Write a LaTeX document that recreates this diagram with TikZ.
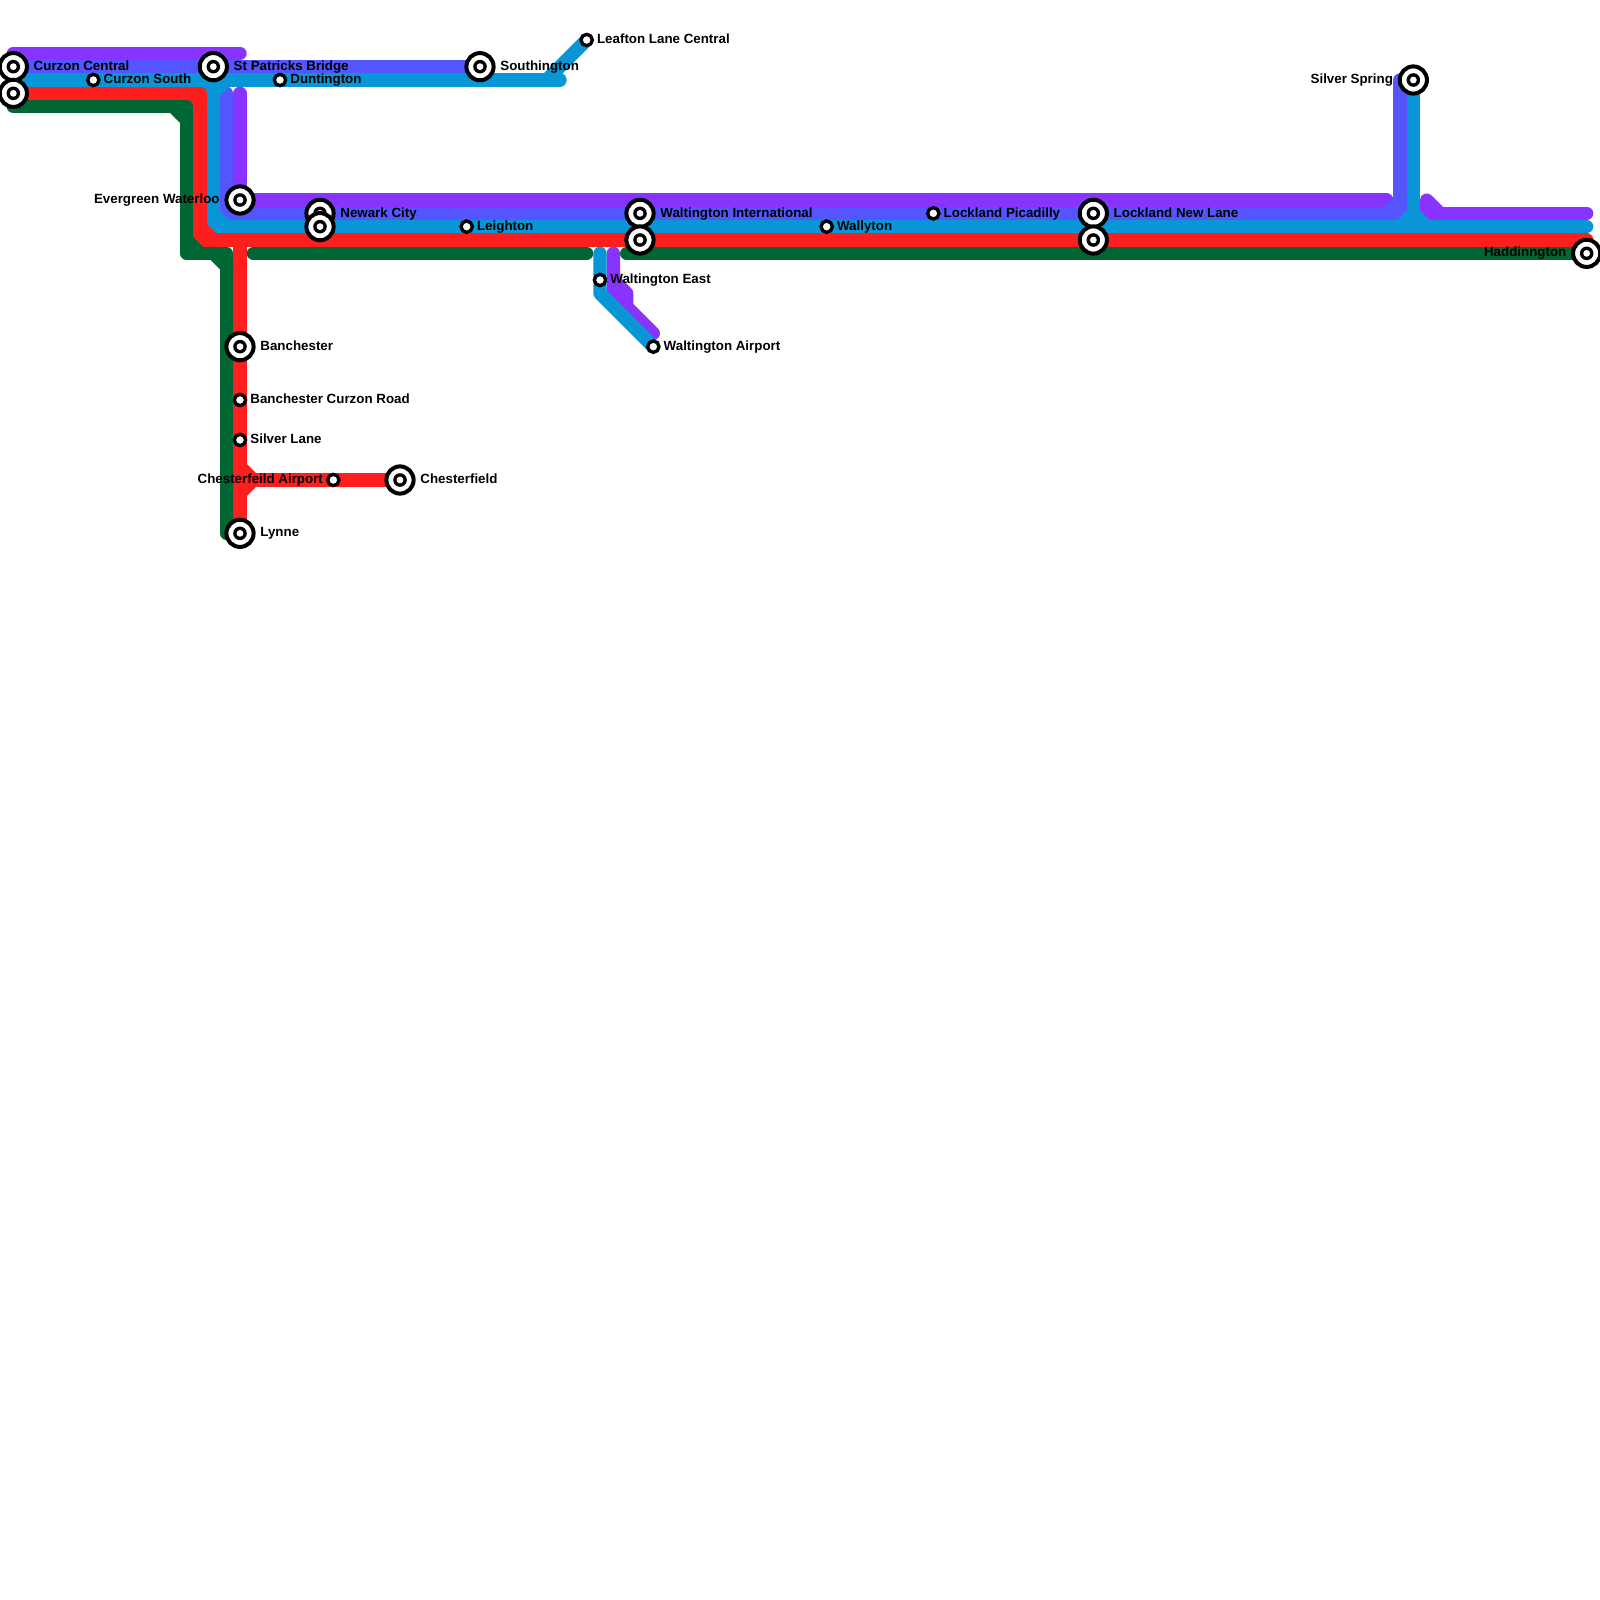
\documentclass[tikz,border=0pt]{standalone}
\usepackage{fontspec}
\setmainfont{Liberation Sans}
\definecolor{cpurple}{RGB}{136,51,255}
\definecolor{cblue}{RGB}{85,85,255}
\definecolor{ccyan}{RGB}{9,150,215}
\definecolor{cred}{RGB}{255,30,30}
\definecolor{cgreen}{RGB}{0,102,51}
\tikzset{
 metro/.style={line width=6.667pt,line cap=round,line join=round},
 purpleline/.style={metro,draw=cpurple},
 blueline/.style={metro,draw=cblue},
 cyanline/.style={metro,draw=ccyan},
 redline/.style={metro,draw=cred},
 greenline/.style={metro,draw=cgreen},
 bigstop/.style={circle,draw=black,fill=white,line width=2pt,minimum size=13.6pt,inner sep=0pt,outer sep=0pt,
   path picture={\fill[black] (path picture bounding box.center) circle (3.4pt);
                 \fill[white] (path picture bounding box.center) circle (1.7pt);}},
 smallstop/.style={circle,draw=black,fill=white,line width=1.67pt,minimum size=5.67pt,inner sep=0pt,outer sep=0pt},
 lab/.style={font=\bfseries\fontsize{6.67pt}{8pt}\selectfont,inner sep=0pt,text=black},
 labr/.style={lab,anchor=base west},
 labl/.style={lab,anchor=base east},
}
\begin{document}
\begin{tikzpicture}[x=0.5pt,y=-0.5pt]
\useasboundingbox (0,0) rectangle (1600,1600);
\clip (0,0) rectangle (1600,1600);
% station positions
\coordinate (pCC) at (13.33,66.67);
\coordinate (pCS2) at (13.33,93.33);
\coordinate (pCS) at (93.33,80);
\coordinate (pSP) at (213.33,66.67);
\coordinate (pDu) at (280,80);
\coordinate (pSo) at (480,66.67);
\coordinate (pLe) at (586.67,40);
\coordinate (pEW) at (240,200);
\coordinate (pNC) at (320,213.33);
\coordinate (pNC2) at (320,226.67);
\coordinate (pLg) at (466.67,226.67);
\coordinate (pWI) at (640,213.33);
\coordinate (pWI2) at (640,240);
\coordinate (pWy) at (826.67,226.67);
\coordinate (pLP) at (933.33,213.33);
\coordinate (pLN) at (1093.33,213.33);
\coordinate (pLN2) at (1093.33,240);
\coordinate (pSS) at (1413.33,80);
\coordinate (pHa) at (1586.67,253.33);
\coordinate (pBa) at (240,346.67);
\coordinate (pBC) at (240,400);
\coordinate (pSL) at (240,440);
\coordinate (pCA) at (333.33,480);
\coordinate (pCh) at (400,480);
\coordinate (pLy) at (240,533.33);
\coordinate (pWE) at (600,280);
\coordinate (pWA) at (653.33,346.67);
% way points: green
\coordinate (g1) at (13.33,106.67);
\coordinate (g2) at (186.67,106.67);
\coordinate (g2a) at (173.33,106.67);
\coordinate (g2b) at (186.67,120);
\coordinate (g3) at (186.67,253.33);
\coordinate (g3a) at (186.67,240);
\coordinate (g3b) at (200,253.33);
\coordinate (g4) at (226.67,253.33);
\coordinate (g4a) at (213.33,253.33);
\coordinate (g4b) at (226.67,266.67);
\coordinate (g5) at (226.67,533.33);
\coordinate (g6) at (253.33,253.33);
\coordinate (g7) at (586.67,253.33);
\coordinate (g8) at (626.67,253.33);
% red
\coordinate (r1) at (200,93.33);
\coordinate (r1a) at (186.67,93.33);
\coordinate (r1b) at (200,106.67);
\coordinate (r2) at (200,226.67);
\coordinate (r2a) at (200,240);
\coordinate (r3) at (213.33,240);
\coordinate (r4) at (1586.67,240);
\coordinate (r5) at (240,240);
\coordinate (r6) at (240,466.67);
\coordinate (r7) at (253.33,480);
\coordinate (r8) at (240,493.33);
% cyan
\coordinate (c0) at (13.33,80);
\coordinate (c1) at (546.67,80);
\coordinate (c2) at (560,80);
\coordinate (c3) at (213.33,80);
\coordinate (c3a) at (226.67,80);
\coordinate (c3b) at (213.33,93.33);
\coordinate (c3c) at (200,80);
\coordinate (c4) at (213.33,213.33);
\coordinate (c4a) at (213.33,226.67);
\coordinate (c5) at (226.67,226.67);
\coordinate (c6) at (1586.67,226.67);
\coordinate (c7) at (1413.33,213.33);
\coordinate (c7a) at (1400,226.67);
\coordinate (c7b) at (1426.67,226.67);
\coordinate (c8) at (600,253.33);
\coordinate (c9) at (600,293.33);
% blue
\coordinate (b0) at (13.33,66.67);
\coordinate (b1) at (226.67,93.33);
\coordinate (b2) at (226.67,200);
\coordinate (b2a) at (226.67,213.33);
\coordinate (b3) at (240,213.33);
\coordinate (b4) at (1386.67,213.33);
\coordinate (b4a) at (1400,213.33);
\coordinate (b5) at (1400,200);
\coordinate (b6) at (1400,80);
% purple
\coordinate (u0) at (13.33,53.33);
\coordinate (u1) at (240,53.33);
\coordinate (u2) at (240,93.33);
\coordinate (u3) at (1386.67,200);
\coordinate (u4) at (1426.67,200);
\coordinate (u5) at (1440,213.33);
\coordinate (u6) at (1586.67,213.33);
\coordinate (u7) at (1426.67,213.33);
\coordinate (u8) at (613.33,253.33);
\coordinate (u9) at (613.33,293.33);
\coordinate (u10) at (653.33,333.33);
\coordinate (u11) at (613.33,280);
\coordinate (u12) at (626.67,293.33);
\coordinate (u13) at (626.67,306.67);
% purple
\draw[purpleline] (u0) -- (u1);
\draw[purpleline] (u2) -- (pEW) -- (u3);
\draw[purpleline] (u7) -- (u6);
\draw[purpleline] (u7) -- (u4) -- (u5);
\draw[purpleline] (u8) -- (u9) -- (u10);
\draw[purpleline] (u11) -- (u12) -- (u13);
% blue
\draw[blueline] (b0) -- (pSo);
\draw[blueline] (b1) -- (b2a) -- (b4a) -- (b6);
\draw[blueline] (b2) -- (b3);
\draw[blueline] (b4) -- (b5);
% cyan
\draw[cyanline] (c0) -- (c2);
\draw[cyanline] (c1) -- (pLe);
\draw[cyanline] (c3) -- (c4a) -- (c6);
\draw[cyanline] (c4) -- (c5);
\draw[cyanline] (c3a) -- (c3b) -- (c3c);
\draw[cyanline] (pSS) -- (c7);
\draw[cyanline] (c7a) -- (c7) -- (c7b);
\draw[cyanline] (c8) -- (c9) -- (pWA);
% red
\draw[redline] (pCS2) -- (r1) -- (r2a) -- (r4);
\draw[redline] (r1a) -- (r1b);
\draw[redline] (r2) -- (r3);
\draw[redline] (r5) -- (pLy);
\draw[redline] (r6) -- (r7) -- (r8);
\draw[redline] (r7) -- (pCh);
% green
\draw[greenline] (g1) -- (g2) -- (g3) -- (g4) -- (g5);
\draw[greenline] (g2a) -- (g2b);
\draw[greenline] (g3a) -- (g3b);
\draw[greenline] (g4a) -- (g4b);
\draw[greenline] (g6) -- (g7);
\draw[greenline] (g8) -- (pHa);
% stations
\node[bigstop] (sCC) at (pCC) {};
\node[bigstop] (sCC2) at (pCS2) {};
\node[smallstop] (sCS) at (pCS) {};
\node[bigstop] (sSP) at (pSP) {};
\node[smallstop] (sDu) at (pDu) {};
\node[bigstop] (sSo) at (pSo) {};
\node[smallstop] (sLe) at (pLe) {};
\node[bigstop] (sEW) at (pEW) {};
\node[bigstop] (sNC) at (pNC) {};
\node[bigstop] (sNC2) at (pNC2) {};
\node[smallstop] (sLg) at (pLg) {};
\node[bigstop] (sWI) at (pWI) {};
\node[bigstop] (sWI2) at (pWI2) {};
\node[smallstop] (sWy) at (pWy) {};
\node[smallstop] (sLP) at (pLP) {};
\node[bigstop] (sLN) at (pLN) {};
\node[bigstop] (sLN2) at (pLN2) {};
\node[bigstop] (sSS) at (pSS) {};
\node[bigstop] (sHa) at (pHa) {};
\node[bigstop] (sBa) at (pBa) {};
\node[smallstop] (sBC) at (pBC) {};
\node[smallstop] (sSL) at (pSL) {};
\node[smallstop] (sCA) at (pCA) {};
\node[bigstop] (sCh) at (pCh) {};
\node[bigstop] (sLy) at (pLy) {};
\node[smallstop] (sWE) at (pWE) {};
\node[smallstop] (sWA) at (pWA) {};
% labels
\node[labr] (tCC) at (33.33,70.8) {Curzon Central};
\node[labr] (tCS) at (103.33,83.33) {Curzon South};
\node[labr] (tSP) at (233.33,70.8) {St Patricks Bridge};
\node[labr] (tDu) at (290,83.33) {Duntington};
\node[labr] (tSo) at (500,70.8) {Southington};
\node[labr] (tLe) at (596.67,43.33) {Leafton Lane Central};
\node[labl] (tEW) at (220,203.33) {Evergreen Waterloo};
\node[labr] (tNC) at (340,217.4) {Newark City};
\node[labr] (tLg) at (476.67,230) {Leighton};
\node[labr] (tWI) at (660,217.4) {Waltington International};
\node[labr] (tWy) at (836.67,230) {Wallyton};
\node[labr] (tLP) at (943.33,217.4) {Lockland Picadilly};
\node[labr] (tLN) at (1113.33,217.4) {Lockland New Lane};
\node[labl] (tSS) at (1393.33,83.33) {Silver Spring};
\node[labl] (tHa) at (1566.67,256.67) {Haddinngton};
\node[labr] (tBa) at (260,350) {Banchester};
\node[labr] (tBC) at (250,403.33) {Banchester Curzon Road};
\node[labr] (tSL) at (250,443.33) {Silver Lane};
\node[labl] (tCA) at (323.33,483.33) {Chesterfeild Airport};
\node[labr] (tCh) at (420,483.33) {Chesterfield};
\node[labr] (tLy) at (260,536.67) {Lynne};
\node[labr] (tWE) at (610,283.33) {Waltington East};
\node[labr] (tWA) at (663.33,350) {Waltington Airport};
\end{tikzpicture}
\end{document}
